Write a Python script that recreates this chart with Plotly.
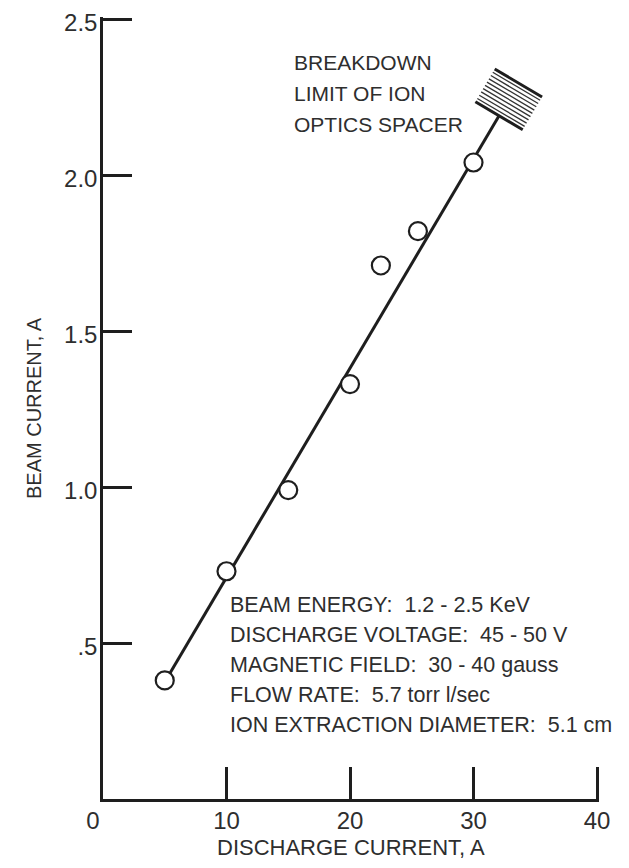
import numpy as np
import plotly.graph_objects as go

# ---- data ----
discharge_current = [5, 10, 15, 20, 22.5, 25.5, 30]
beam_current = [0.38, 0.73, 0.99, 1.33, 1.71, 1.82, 2.04]

fit_x = [5.0, 32.07]
fit_y = [0.375, 2.19]

x_tickvals = [0, 10, 20, 30, 40]
x_ticktext = ["0\u00a0\u00a0\u00a0", "10", "20", "30", "40"]
y_tickvals = [0.5, 1.0, 1.5, 2.0, 2.5]
y_ticktext = [".5", "1.0", "1.5", "2.0", "2.5"]

breakdown_label = ["BREAKDOWN", "LIMIT OF ION", "OPTICS SPACER"]
conditions = [
    "BEAM ENERGY:  1.2 - 2.5 KeV",
    "DISCHARGE VOLTAGE:  45 - 50 V",
    "MAGNETIC FIELD:  30 - 40 gauss",
    "FLOW RATE:  5.7 torr l/sec",
    "ION EXTRACTION DIAMETER:  5.1 cm",
]

# ---- layout constants (page has an 8px body margin) ----
W, H = 613, 852
SX, SY = 494 / 40, 780 / 2.5      # px per data unit
END_PAD = 2.0                      # px beyond last tick so end ticks are drawn
XR = [0, 40 + END_PAD / SX]
YR = [0, 2.5 + END_PAD / SY]
ML = 95
MB = 61
pw = (XR[1] - XR[0]) * SX
ph = (YR[1] - YR[0]) * SY
MR = W - ML - pw
MT = H - MB - ph
FONT = "Liberation Sans, Arial, sans-serif"
INK = "#1e1e1e"
TXT = "#2e2e2e"

sx, sy = SX, SY

fig = go.Figure()

# fit line
fig.add_trace(go.Scatter(x=fit_x, y=fit_y, mode="lines",
                         line=dict(color=INK, width=3), hoverinfo="skip"))

# hatched breakdown-limit symbol at the end of the line (pixel geometry)
ux, uy = (fit_x[1] - fit_x[0]) * sx, (fit_y[1] - fit_y[0]) * sy
L = np.hypot(ux, uy)
ux, uy = ux / L, uy / L
nx, ny = uy, -ux
half_w, height, nlines = 27.5, 38.0, 11
edge_x, edge_y, in_x, in_y = [], [], [], []
for i in range(nlines):
    t = height * i / (nlines - 1)
    cx, cy = t * ux, t * uy
    xa = fit_x[1] + (cx - half_w * nx) / sx
    ya = fit_y[1] + (cy - half_w * ny) / sy
    xb = fit_x[1] + (cx + half_w * nx) / sx
    yb = fit_y[1] + (cy + half_w * ny) / sy
    if i in (0, nlines - 1):
        edge_x += [xa, xb, None]; edge_y += [ya, yb, None]
    else:
        in_x += [xa, xb, None]; in_y += [ya, yb, None]
fig.add_trace(go.Scatter(x=in_x, y=in_y, mode="lines",
                         line=dict(color="#333", width=1.3), hoverinfo="skip"))
fig.add_trace(go.Scatter(x=edge_x, y=edge_y, mode="lines",
                         line=dict(color=INK, width=3), hoverinfo="skip"))

# data points
fig.add_trace(go.Scatter(x=discharge_current, y=beam_current, mode="markers",
                         marker=dict(symbol="circle", size=18, color="white",
                                     line=dict(color=INK, width=2.2)),
                         hoverinfo="skip"))

# text blocks
for i, s in enumerate(breakdown_label):
    fig.add_annotation(x=15.3, y=2.359 - i * 0.098, text=s, showarrow=False,
                       xanchor="left", yanchor="middle",
                       font=dict(family=FONT, size=21, color=TXT))
for i, s in enumerate(conditions):
    fig.add_annotation(x=10.15, y=0.622 - i * 0.0965, text=s, showarrow=False,
                       xanchor="left", yanchor="middle",
                       font=dict(family=FONT, size=21.5, color=TXT))

# axis titles
fig.add_annotation(xref="x domain", yref="y domain", x=0.5, y=-49 / ph,
                   text="DISCHARGE CURRENT, A", showarrow=False,
                   xanchor="center", yanchor="middle",
                   font=dict(family=FONT, size=22, color=TXT))
fig.add_annotation(xref="x domain", yref="y domain", x=-69 / pw, y=0.5,
                   text="BEAM CURRENT, A", showarrow=False, textangle=-90,
                   xanchor="center", yanchor="middle",
                   font=dict(family=FONT, size=20, color=TXT))

axis_common = dict(showgrid=False, zeroline=False, showline=True,
                   linecolor=INK, linewidth=2.5, ticks="inside",
                   tickcolor=INK, tickwidth=2.5, automargin=False,
                   ticklabeloverflow="allow",
                   tickfont=dict(family=FONT, size=24, color=TXT))
fig.update_xaxes(range=XR, tickvals=x_tickvals, ticktext=x_ticktext,
                 ticklen=32, ticklabelstandoff=-2, **axis_common)
fig.update_yaxes(range=YR, tickvals=y_tickvals, ticktext=y_ticktext,
                 ticklen=29, ticklabelstandoff=-2, ticklabelshift=4,
                 **axis_common)

fig.update_layout(width=W, height=H, margin=dict(l=ML, r=MR, t=MT, b=MB),
                  paper_bgcolor="white", plot_bgcolor="white",
                  showlegend=False)

fig.write_html("out.html")
